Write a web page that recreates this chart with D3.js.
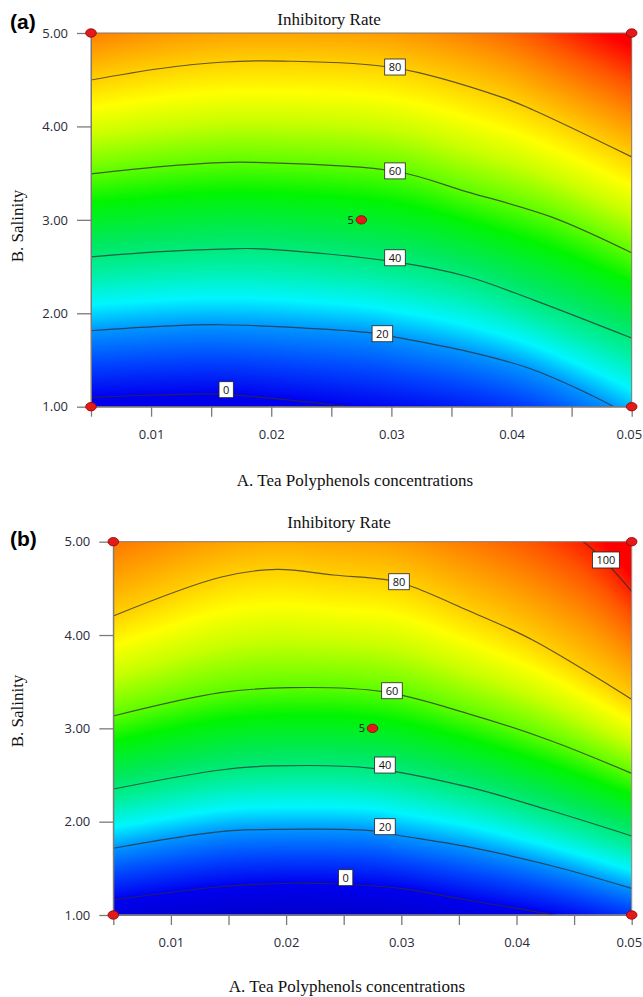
<!DOCTYPE html>
<html>
<head>
<meta charset="utf-8">
<script src="https://cdn.jsdelivr.net/npm/d3@7"></script>
<style>
body { margin: 0; background: #fff; }
svg { display: block; }
</style>
</head>
<body>
<svg id="chart" width="643" height="997"></svg>
<script>
// axis ticks
var xTicks = [0.005, 0.01, 0.015, 0.02, 0.025, 0.03, 0.035, 0.04, 0.045, 0.05];
var xLabels = [0.01, 0.02, 0.03, 0.04, 0.05];
var yTicks = [1, 2, 3, 4, 5];

// design points (corners + centre point with 5 replicates)
var cornerPoints = [[0.005, 1], [0.05, 1], [0.005, 5], [0.05, 5]];
var centrePoint = [0.0275, 3.0];

// contour lines, [A, B]; a few points lie just outside the frame
var a0  = [[0.005,1.10],[0.0105,1.125],[0.0155,1.135],[0.0197,1.095],[0.0263,1.003],[0.0357,0.85],[0.0418,0.65],[0.05,0.15]];
var a20 = [[0.005,1.813],[0.0108,1.86],[0.0158,1.877],[0.0284,1.79],[0.0302,1.747],[0.0363,1.592],[0.0418,1.396],[0.0485,1.0],[0.05,0.88]];
var a40 = [[0.005,2.604],[0.0108,2.66],[0.0158,2.687],[0.0191,2.69],[0.0303,2.55],[0.0363,2.394],[0.0418,2.144],[0.05,1.735]];
var a60 = [[0.005,3.492],[0.0108,3.57],[0.0158,3.613],[0.0185,3.615],[0.0303,3.52],[0.0363,3.30],[0.0433,3.032],[0.05,2.647]];
var a80 = [[0.005,4.497],[0.0108,4.62],[0.0158,4.687],[0.021,4.70],[0.0303,4.626],[0.0391,4.316],[0.0418,4.176],[0.05,3.674]];

var b0   = [[0.005,1.161],[0.0143,1.303],[0.0203,1.34],[0.0245,1.332],[0.0299,1.286],[0.0357,1.161],[0.0432,1.0],[0.05,0.82]];
var b20  = [[0.005,1.715],[0.0143,1.893],[0.0197,1.918],[0.0277,1.90],[0.0296,1.857],[0.0357,1.732],[0.0428,1.536],[0.05,1.286]];
var b40  = [[0.005,2.35],[0.0143,2.554],[0.0189,2.597],[0.0275,2.572],[0.0357,2.375],[0.0428,2.125],[0.05,1.847]];
var b60  = [[0.005,3.132],[0.0143,3.382],[0.0203,3.436],[0.0284,3.393],[0.0357,3.161],[0.0428,2.875],[0.05,2.518]];
var b80  = [[0.005,4.204],[0.0143,4.619],[0.0192,4.704],[0.0241,4.643],[0.0288,4.59],[0.0308,4.525],[0.0357,4.268],[0.0414,3.947],[0.05,3.311]];
var b100 = [[0.005,5.65],[0.02,6.05],[0.035,5.7],[0.0458,5.0],[0.05,4.464]];

// contour label positions [level, A, B]
var labelsA = [[80,0.0303,4.636],[60,0.0303,3.524],[40,0.0303,2.594],[20,0.02925,1.781],[0,0.01625,1.182]];
var labelsB = [[100,0.04776,4.804],[80,0.0298,4.571],[60,0.02919,3.403],[40,0.02858,2.607],[20,0.02858,1.946],[0,0.02517,1.40]];

var svg = d3.select("#chart");

// jet-like colour map of the response
var colour = d3.scaleLinear()
  .domain([-20, 0, 10, 20, 27, 35, 43, 53, 62, 68, 74, 82, 88, 95, 103])
  .range(["#0000b4","#0000f0","#0046ff","#0096ff","#00f5ff","#00f0a8","#00e860","#00f500",
          "#78ff00","#c8ff00","#ffff00","#ffc000","#ff9000","#ff5500","#ff0000"])
  .clamp(true);
var lut = [];
for (var v = -300; v <= 1300; v++) { var c = d3.rgb(colour(v / 10)); lut.push([c.r, c.g, c.b]); }

var panels = [
  { id: "a", tag: "(a)", tagY: 29, left: 91, right: 631.7, top: 33, bottom: 406.7,
    titleX: 329, titleY: 25, xTitleX: 355, xTitleY: 486, yTitleY: 226,
    lines: [[0,a0],[20,a20],[40,a40],[60,a60],[80,a80]], labels: labelsA },
  { id: "b", tag: "(b)", tagY: 546, left: 113.3, right: 631.7, top: 541.7, bottom: 915,
    titleX: 339, titleY: 528, xTitleX: 347, xTitleY: 992, yTitleY: 711,
    lines: [[0,b0],[20,b20],[40,b40],[60,b60],[80,b80],[100,b100]], labels: labelsB }
];

panels.forEach(drawPanel);

function drawPanel(p) {
  var x = d3.scaleLinear().domain([0.005, 0.05]).range([p.left, p.right]);
  var y = d3.scaleLinear().domain([1, 5]).range([p.bottom, p.top]);

  svg.append("clipPath").attr("id", "clip-" + p.id)
    .append("rect").attr("x", p.left).attr("y", p.top)
    .attr("width", p.right - p.left).attr("height", p.bottom - p.top);

  var fieldLayer = svg.append("g");
  var lineLayer = svg.append("g").attr("clip-path", "url(#clip-" + p.id + ")");

  var line = d3.line().x(function(d) { return x(d[0]); }).y(function(d) { return y(d[1]); })
    .curve(d3.curveCatmullRom.alpha(0.5));

  var paths = lineLayer.selectAll("path").data(p.lines).enter().append("path")
    .attr("d", function(d) { return line(d[1]); })
    .attr("fill", "none")
    .attr("stroke", "#2e2e2e")
    .attr("stroke-opacity", 0.75)
    .attr("stroke-width", 1.2);

  // colour field: value interpolated between the contour lines in each pixel column
  var w = Math.round(p.right - p.left), h = Math.round(p.bottom - p.top);
  var bis = d3.bisector(function(d) { return d[0]; }).left;
  var cols = [];
  paths.each(function(d) {
    var len = this.getTotalLength(), pts = [];
    for (var s = 0; s <= len; s += 0.5) { var q = this.getPointAtLength(s); pts.push([q.x, q.y]); }
    pts.sort(function(m, n) { return m[0] - n[0]; });
    var ys = new Float32Array(w);
    for (var c = 0; c < w; c++) {
      var px = p.left + c + 0.5;
      var i = Math.max(1, Math.min(pts.length - 1, bis(pts, px)));
      var a = pts[i - 1], b = pts[i];
      var t = (px - a[0]) / ((b[0] - a[0]) || 1);
      ys[c] = a[1] + t * (b[1] - a[1]);
    }
    cols.push({ level: d[0], ys: ys });
  });

  var canvas = document.createElement("canvas");
  canvas.width = w; canvas.height = h;
  var ctx = canvas.getContext("2d");
  var img = ctx.createImageData(w, h);
  for (var c = 0; c < w; c++) {
    var st = cols.map(function(k) { return [k.ys[c], k.level]; })
      .sort(function(m, n) { return m[0] - n[0]; });
    var n = st.length;
    for (var r = 0; r < h; r++) {
      var py = p.top + r + 0.5, j = 0;
      while (j < n - 2 && py > st[j + 1][0]) j++;
      var s0 = st[j], s1 = st[j + 1];
      var val = s0[1] + (py - s0[0]) / (s1[0] - s0[0]) * (s1[1] - s0[1]);
      var idx = Math.max(0, Math.min(lut.length - 1, Math.round(val * 10) + 300));
      var col = lut[idx], o = (r * w + c) * 4;
      img.data[o] = col[0]; img.data[o + 1] = col[1]; img.data[o + 2] = col[2]; img.data[o + 3] = 255;
    }
  }
  ctx.putImageData(img, 0, 0);
  fieldLayer.append("image")
    .attr("x", p.left).attr("y", p.top).attr("width", w).attr("height", h)
    .attr("preserveAspectRatio", "none")
    .attr("href", canvas.toDataURL());

  // contour labels
  var lab = svg.append("g").selectAll("g").data(p.labels).enter().append("g")
    .attr("transform", function(d) { return "translate(" + x(d[1]) + "," + y(d[2]) + ")"; });
  lab.append("rect").attr("fill", "#fff").attr("stroke", "#222").attr("stroke-width", 0.8);
  lab.append("text").text(function(d) { return d[0]; })
    .attr("text-anchor", "middle").attr("dy", "0.36em")
    .style("font", "11px 'Open Sans', sans-serif").attr("fill", "#111");
  lab.each(function() {
    var g = d3.select(this), tw = g.select("text").node().getComputedTextLength();
    g.select("rect").attr("x", -tw / 2 - 4).attr("y", -8).attr("width", tw + 8).attr("height", 16);
  });

  // frame
  svg.append("rect").attr("x", p.left).attr("y", p.top)
    .attr("width", p.right - p.left).attr("height", p.bottom - p.top)
    .attr("fill", "none").attr("stroke", "#857a6e").attr("stroke-width", 1);

  // axes
  var fmt = d3.format(".2f");
  var xAxis = d3.axisBottom(x).tickValues(xTicks).tickSize(10).tickSizeOuter(0).tickPadding(13)
    .tickFormat(function(d) { return xLabels.some(function(v) { return Math.abs(v - d) < 1e-9; }) ? fmt(d) : ""; });
  var yAxis = d3.axisLeft(y).tickValues(yTicks).tickSize(14).tickSizeOuter(0).tickPadding(9).tickFormat(fmt);

  var gx = svg.append("g").attr("transform", "translate(0," + p.bottom + ")").call(xAxis);
  var gy = svg.append("g").attr("transform", "translate(" + p.left + ",0)").call(yAxis);
  [gx, gy].forEach(function(g) {
    g.select(".domain").attr("stroke", "#7a7a7a");
    g.selectAll(".tick line").attr("stroke", "#7a7a7a").attr("stroke-width", 1.3);
    g.selectAll(".tick text").attr("fill", "#2a2a3a").style("font", "13px 'Open Sans', sans-serif");
  });
  // last label sits against the page edge
  gx.selectAll(".tick text").filter(function(d) { return Math.abs(d - 0.05) < 1e-9; })
    .attr("text-anchor", "end").attr("dx", 10);

  // design points
  svg.append("g").selectAll("ellipse").data(cornerPoints.concat([centrePoint])).enter().append("ellipse")
    .attr("cx", function(d) { return x(d[0]); }).attr("cy", function(d) { return y(d[1]); })
    .attr("rx", 5.3).attr("ry", 4.2)
    .attr("fill", "#e41a1a").attr("stroke", "#8a0000").attr("stroke-width", 0.8);
  svg.append("text").text("5")
    .attr("x", x(centrePoint[0]) - 7.5).attr("y", y(centrePoint[1])).attr("dy", "0.36em")
    .attr("text-anchor", "end").style("font", "11px 'Open Sans', sans-serif").attr("fill", "#111");

  // titles
  var serif = "17px 'Liberation Serif', 'Times New Roman', serif";
  svg.append("text").text("Inhibitory Rate").attr("x", p.titleX).attr("y", p.titleY)
    .attr("text-anchor", "middle").style("font", serif).attr("fill", "#111");
  svg.append("text").text("A. Tea Polyphenols concentrations").attr("x", p.xTitleX).attr("y", p.xTitleY)
    .attr("text-anchor", "middle").style("font", serif).attr("fill", "#111");
  svg.append("text").text("B. Salinity")
    .attr("transform", "translate(23," + p.yTitleY + ") rotate(-90)")
    .attr("text-anchor", "middle").style("font", serif).attr("fill", "#111");
  svg.append("text").text(p.tag).attr("x", 10).attr("y", p.tagY)
    .style("font", "bold 21px 'Liberation Sans', Arial, sans-serif").attr("fill", "#000");
}
</script>
</body>
</html>
